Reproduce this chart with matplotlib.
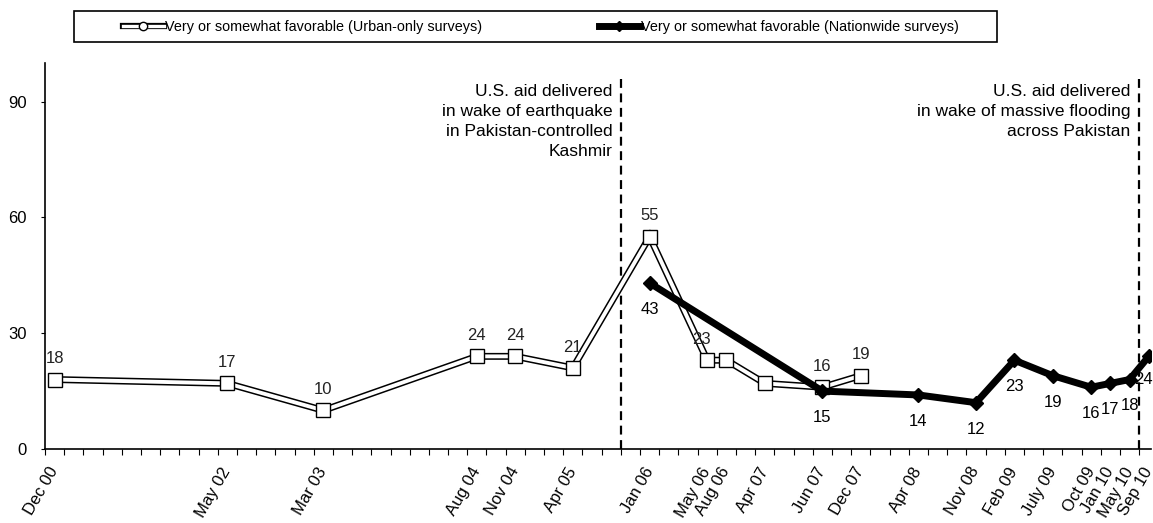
import matplotlib
matplotlib.use('agg')
import matplotlib.pyplot as plt
from matplotlib.patches import Rectangle
from matplotlib.legend_handler import HandlerTuple

plt.rcParams['font.family'] = ['Liberation Sans', 'DejaVu Sans']

# survey months and their slot on the category axis
dates = ['Dec 00', 'May 02', 'Mar 03', 'Aug 04', 'Nov 04', 'Apr 05', 'Jan 06',
         'May 06', 'Aug 06', 'Apr 07', 'Jun 07', 'Dec 07', 'Apr 08', 'Nov 08',
         'Feb 09', 'July 09', 'Oct 09', 'Jan 10', 'May 10', 'Sep 10']
slots = [0, 9, 14, 22, 24, 27, 31, 34, 35, 37, 40, 42, 45, 48, 50, 52, 54, 55, 56, 57]
n_slots = 58

urban_dates = ['Dec 00', 'May 02', 'Mar 03', 'Aug 04', 'Nov 04', 'Apr 05', 'Jan 06',
               'May 06', 'Aug 06', 'Apr 07', 'Jun 07', 'Dec 07']
urban_vals = [18, 17, 10, 24, 24, 21, 55, 23, 23, 17, 16, 19]
urban_shown = [True, True, True, True, True, True, True, True, False, False, True, True]

nation_dates = ['Jan 06', 'Jun 07', 'Apr 08', 'Nov 08', 'Feb 09', 'July 09',
                'Oct 09', 'Jan 10', 'May 10', 'Sep 10']
nation_vals = [43, 15, 14, 12, 23, 19, 16, 17, 18, 24]

# aid events (slot boundaries) and their notes
event_slots = [30, 57]
event_notes = ['U.S. aid delivered\nin wake of earthquake\nin Pakistan-controlled\nKashmir',
               'U.S. aid delivered\nin wake of massive flooding\nacross Pakistan']

pos = {d: s + 0.5 for d, s in zip(dates, slots)}
ux = [pos[d] for d in urban_dates]
nx = [pos[d] for d in nation_dates]

fig = plt.figure(figsize=(11.53, 5.23), dpi=100)
ax = fig.add_axes([0.039, 0.1415, 0.959, 0.738])

# urban line: hollow double line
ax.plot(ux, urban_vals, color='black', lw=5.0, zorder=2, solid_joinstyle='miter')
ax.plot(ux, urban_vals, color='white', lw=2.8, zorder=3, solid_joinstyle='miter')
ax.plot(ux, urban_vals, ls='none', marker='s', ms=9.5, mfc='white', mec='black',
        mew=1.0, zorder=4)
ax.plot(ux, urban_vals, ls='none', marker='s', ms=7.6, mfc='white', mec='none', zorder=5)

# nationwide line
ax.plot(nx, nation_vals, color='black', lw=5, marker='D', ms=7, zorder=6)

for x, v, show in zip(ux, urban_vals, urban_shown):
    if show:
        dx = -4 if v == 23 else 0
        ax.annotate(str(v), (x, v), xytext=(dx, 15), textcoords='offset points',
                    ha='center', va='center', fontsize=12, color='#222222', zorder=7)

for d, x, v in zip(nation_dates, nx, nation_vals):
    if d == 'Sep 10':
        off = (-4, -17)
    else:
        off = (0, -19)
    ax.annotate(str(v), (x, v), xytext=off, textcoords='offset points',
                ha='center', va='center', fontsize=12, color='black', zorder=7)

for s, note in zip(event_slots, event_notes):
    ax.vlines(s, 0, 97, colors='black', linestyles=(0, (4, 2.5)), lw=1.6, zorder=1)
    ax.text(s - 0.45, 94.5, note, ha='right', va='top', fontsize=12.5,
            linespacing=1.4)

ax.set_xlim(0, n_slots - 0.4)
ax.set_ylim(0, 100)
ax.set_yticks([0, 30, 60, 90])
ax.tick_params(axis='y', length=3, labelsize=12, pad=10)

ax.set_xticks([pos[d] for d in dates])
ax.set_xticklabels(dates, rotation=60, ha='right', va='center',
                   rotation_mode='anchor', fontsize=12)
ax.tick_params(axis='x', which='major', length=0, pad=14)
ax.set_xticks(range(n_slots), minor=True)
ax.tick_params(axis='x', which='minor', length=4, width=0.8)

for side in ['top', 'right']:
    ax.spines[side].set_visible(False)
for side in ['left', 'bottom']:
    ax.spines[side].set_linewidth(1.2)

# legend handles
h_urban = (plt.Line2D([], [], color='black', lw=4.5),
           plt.Line2D([], [], color='white', lw=2.4),
           plt.Line2D([], [], ls='none', marker='o', ms=6, mfc='white',
                      mec='black', mew=1.0))
h_nation = plt.Line2D([], [], color='black', lw=5, marker='D', ms=5)
leg = fig.legend([h_urban, h_nation],
                 ['Very or somewhat favorable (Urban-only surveys)',
                  'Very or somewhat favorable (Nationwide surveys)'],
                 handler_map={tuple: HandlerTuple(ndivide=1, pad=0)},
                 loc='center', bbox_to_anchor=(0.469, 0.949), ncol=2,
                 fontsize=10.4, frameon=False,
                 handlelength=2.85, handletextpad=0.05, columnspacing=8.1)
fig.patches.append(Rectangle((74 / 1153, 1 - 42 / 523), 923 / 1153, 31 / 523,
                             transform=fig.transFigure, fill=False,
                             edgecolor='black', lw=1.2))

fig.savefig('out.png', dpi=100)
